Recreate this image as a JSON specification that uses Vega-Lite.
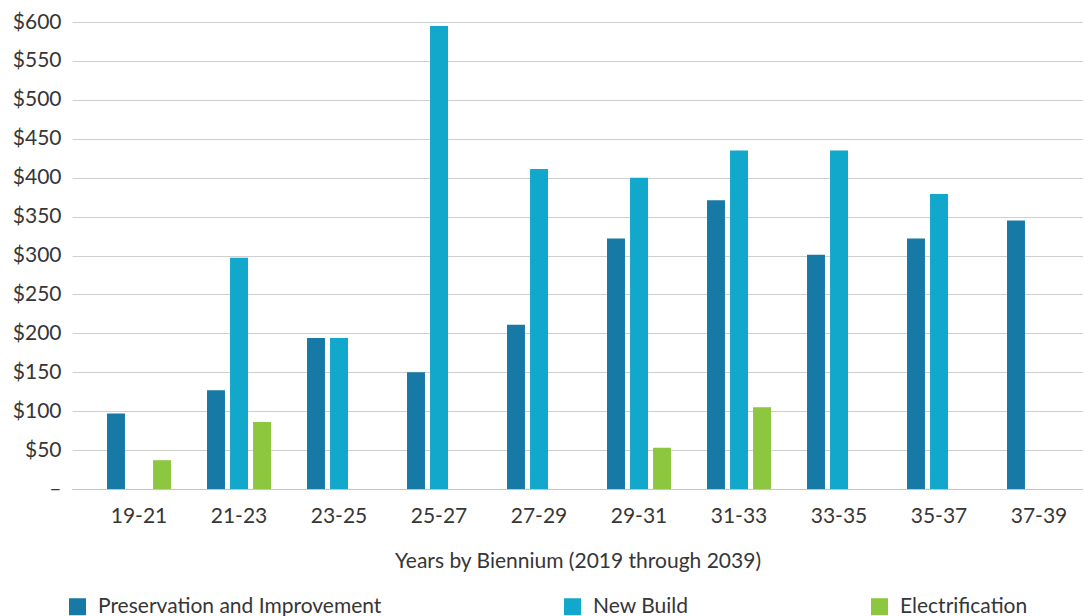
{
  "$schema": "https://vega.github.io/schema/vega-lite/v6.json",
  "width": 1011,
  "height": 467,
  "padding": {"top": 11, "left": 12, "right": 0, "bottom": 0},
  "background": "#ffffff",
  "config": {
    "font": "Lato",
    "view": {"stroke": null},
    "axis": {"labelFont": "Lato", "titleFont": "Lato", "labelColor": "#363636", "titleColor": "#363636"},
    "legend": {"labelFont": "Lato", "labelColor": "#363636"}
  },
  "data": {
    "values": [
      {"period": "19-21", "series": "Preservation and Improvement", "value": 97},
      {"period": "19-21", "series": "Electrification", "value": 37},
      {"period": "21-23", "series": "Preservation and Improvement", "value": 127},
      {"period": "21-23", "series": "New Build", "value": 297},
      {"period": "21-23", "series": "Electrification", "value": 86},
      {"period": "23-25", "series": "Preservation and Improvement", "value": 194},
      {"period": "23-25", "series": "New Build", "value": 194},
      {"period": "25-27", "series": "Preservation and Improvement", "value": 150},
      {"period": "25-27", "series": "New Build", "value": 595},
      {"period": "27-29", "series": "Preservation and Improvement", "value": 211},
      {"period": "27-29", "series": "New Build", "value": 411},
      {"period": "29-31", "series": "Preservation and Improvement", "value": 322},
      {"period": "29-31", "series": "New Build", "value": 400},
      {"period": "29-31", "series": "Electrification", "value": 53},
      {"period": "31-33", "series": "Preservation and Improvement", "value": 371},
      {"period": "31-33", "series": "New Build", "value": 435},
      {"period": "31-33", "series": "Electrification", "value": 105},
      {"period": "33-35", "series": "Preservation and Improvement", "value": 301},
      {"period": "33-35", "series": "New Build", "value": 435},
      {"period": "35-37", "series": "Preservation and Improvement", "value": 322},
      {"period": "35-37", "series": "New Build", "value": 379},
      {"period": "37-39", "series": "Preservation and Improvement", "value": 345}
    ]
  },
  "mark": {"type": "bar"},
  "encoding": {
    "x": {
      "field": "period",
      "type": "nominal",
      "sort": null,
      "scale": {"paddingInner": 0.36, "paddingOuter": 0.235, "align": 0.745},
      "axis": {
        "title": "Years by Biennium (2019 through 2039)",
        "labelAngle": 0,
        "labelFontSize": 21,
        "titleFontSize": 21,
        "titleFontWeight": "normal",
        "labelPadding": 16,
        "titlePadding": 24,
        "ticks": false,
        "domain": true,
        "domainColor": "#c4c4c4",
        "domainWidth": 1
      }
    },
    "xOffset": {
      "field": "series",
      "type": "nominal",
      "sort": ["Preservation and Improvement", "New Build", "Electrification"],
      "scale": {"paddingInner": 0.22}
    },
    "y": {
      "field": "value",
      "type": "quantitative",
      "scale": {"domain": [0, 600], "nice": false},
      "axis": {
        "title": null,
        "values": [0, 50, 100, 150, 200, 250, 300, 350, 400, 450, 500, 550, 600],
        "labelExpr": "datum.value == 0 ? '–' : '$' + datum.value",
        "labelFontSize": 21,
        "labelPadding": 11,
        "ticks": false,
        "domain": false,
        "grid": true,
        "gridColor": "#cfcfcf",
        "gridWidth": 1
      }
    },
    "color": {
      "field": "series",
      "type": "nominal",
      "sort": ["Preservation and Improvement", "New Build", "Electrification"],
      "scale": {
        "domain": ["Preservation and Improvement", "New Build", "Electrification"],
        "range": ["#1679a6", "#12a8cb", "#8dc63f"]
      },
      "legend": {
        "title": null,
        "orient": "none",
        "legendX": -5,
        "legendY": 574,
        "direction": "horizontal",
        "symbolType": "square",
        "symbolSize": 289,
        "symbolStrokeWidth": 0,
        "labelFontSize": 21,
        "labelOffset": 10,
        "columnPadding": 180,
        "labelLimit": 400
      }
    }
  }
}
